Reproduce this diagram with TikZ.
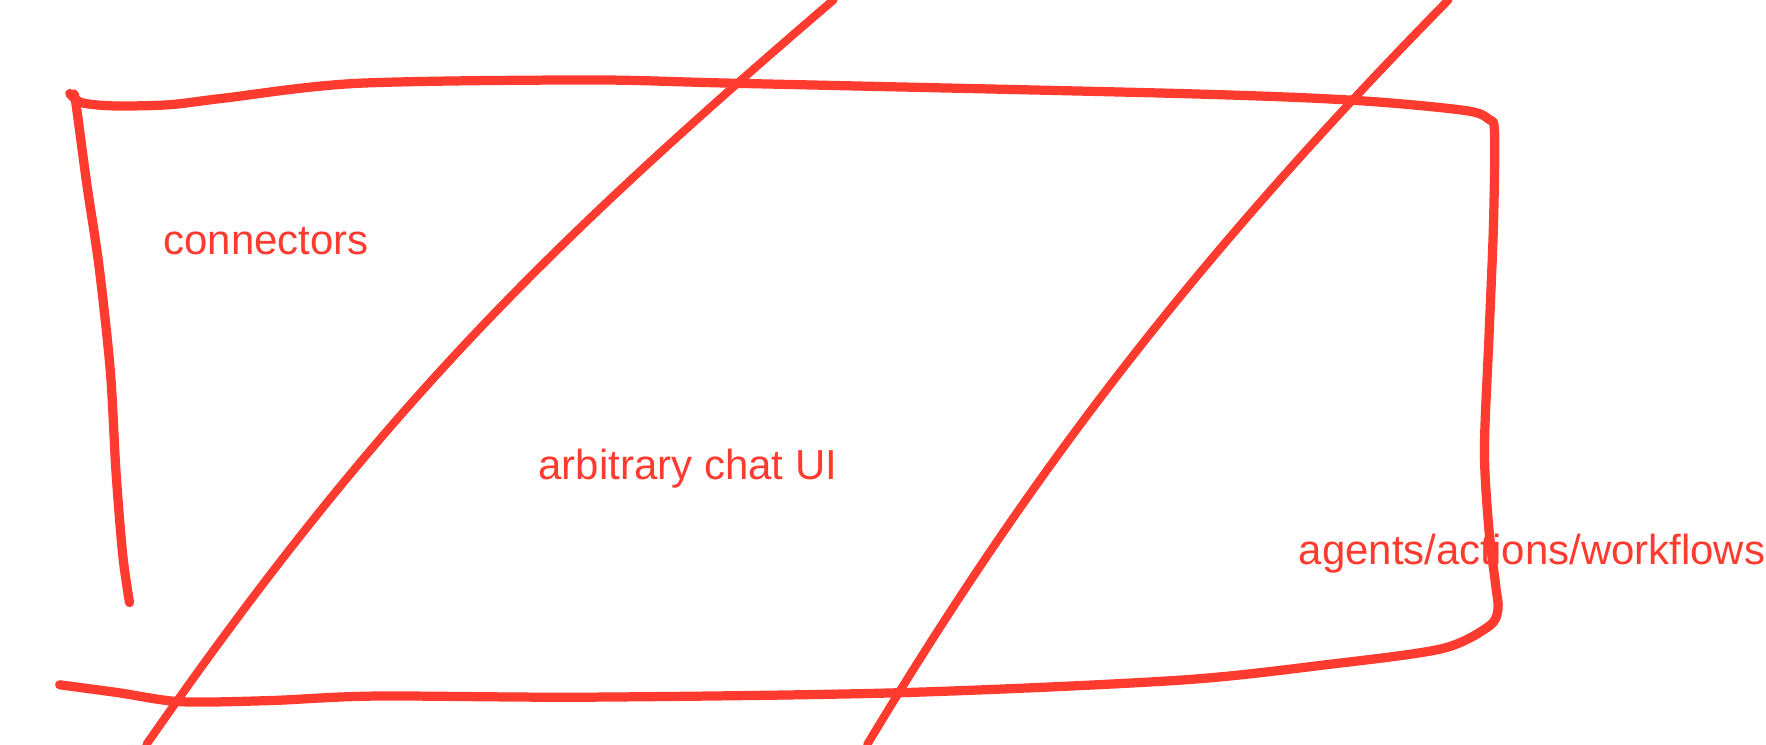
\documentclass[tikz,border=0pt]{standalone}
\usepackage{fontspec}
\setmainfont{Liberation Sans}
\definecolor{pencol}{HTML}{FF3B30}
\begin{document}
\begin{tikzpicture}[x=0.03cm,y=-0.03cm,
  pen/.style={draw=pencol, line width=7pt, line cap=round, line join=round},
  thinpen/.style={draw=pencol, line width=6.2pt, line cap=round, line join=round},
  lbl/.style={text=pencol, font=\fontsize{31.8}{38}\selectfont, inner sep=0pt, anchor=base west}]
\useasboundingbox (0,0) rectangle (1568,661);
% box: top, right and bottom edges
\draw[pen] plot[smooth, tension=0.5] coordinates {(62,83) (72,91) (100,94) (150,93) (200,87) (317,74) (523,71) (656,74) (1046,83) (1201,89) (1300,98) (1322,106) (1327,118) (1326,200) (1322,300) (1318,400) (1322,470) (1328,520) (1330,541) (1322,556) (1280,576) (1179,590) (1046,604) (800,615) (523,619) (334,618) (240,622) (160,623) (105,615) (53,608)};
% box: left edge
\draw[pen] plot[smooth, tension=0.5] coordinates {(65,86) (67,89) (77,163) (88,237) (98,330) (103,419) (109,493) (115,535)};
% diagonals
\draw[thinpen] (740,0) .. controls (474,228) and (330,374) .. (130,661);
\draw[thinpen] (1286,0) .. controls (1060,230) and (915,420) .. (770,661);
% labels
\node[lbl] (conn) at (145,226) {connectors};
\node[lbl] (chat) at (478,426) {arbitrary chat UI};
\node[lbl] (agents) at (1153,501) {agents/actions/workflows};
\end{tikzpicture}
\end{document}
